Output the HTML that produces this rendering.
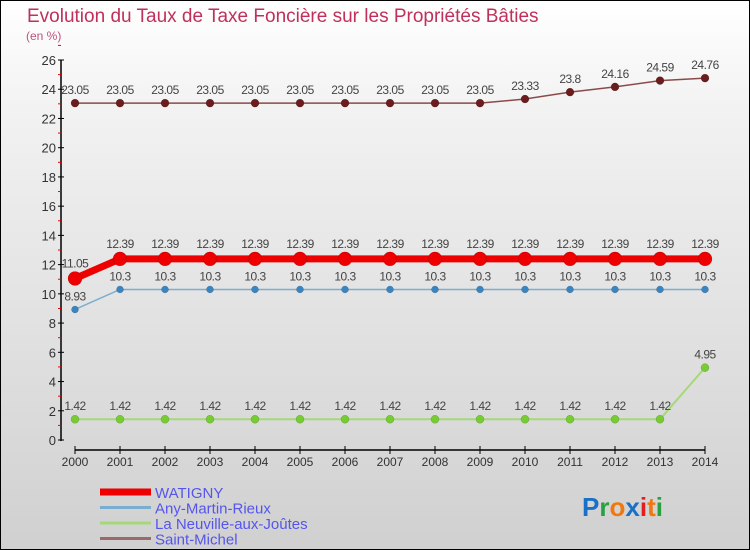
<!DOCTYPE html>
<html><head><meta charset="utf-8"><style>
body{margin:0}
#wrap{position:relative;width:748px;height:548px;border:1px solid #000;background:linear-gradient(#ffffff,#f2f2f2 20%,#d0d0d0);overflow:hidden;font-family:"Liberation Sans",sans-serif}
svg{position:absolute;left:-1px;top:-1px}
</style></head><body>
<div id="wrap">
<svg id="c" width="750" height="550"></svg>
</div>
<script>
const years=[2000,2001,2002,2003,2004,2005,2006,2007,2008,2009,2010,2011,2012,2013,2014];
const watigny=[11.05,12.39,12.39,12.39,12.39,12.39,12.39,12.39,12.39,12.39,12.39,12.39,12.39,12.39,12.39];
const anyMartin=[8.93,10.3,10.3,10.3,10.3,10.3,10.3,10.3,10.3,10.3,10.3,10.3,10.3,10.3,10.3];
const neuville=[1.42,1.42,1.42,1.42,1.42,1.42,1.42,1.42,1.42,1.42,1.42,1.42,1.42,1.42,4.95];
const stMichel=[23.05,23.05,23.05,23.05,23.05,23.05,23.05,23.05,23.05,23.05,23.33,23.8,24.16,24.59,24.76];
const yTicks=[0,2,4,6,8,10,12,14,16,18,20,22,24,26];
const seriesNames=["WATIGNY","Any-Martin-Rieux","La Neuville-aux-Joûtes","Saint-Michel"];

const svg=document.getElementById('c');const NS="http://www.w3.org/2000/svg";
function X(i){return 75+i*(630/(years.length-1));}
function Y(v){return 440-v*(380/26);}
function el(t,a,txt){const e=document.createElementNS(NS,t);for(const k in a)e.setAttribute(k,a[k]);if(txt!==undefined)e.textContent=txt;svg.appendChild(e);return e;}
function fmt(v){return String(v).replace(/\.?0+$/,'')===''?'0':String(v);}

let t=el('text',{x:27,y:22,'font-size':19,fill:'#c0305a'},'Evolution du Taux de Taxe Foncière sur les Propriétés Bâties');

t=el('text',{x:26,y:40,'font-size':12,fill:'#c05080'},'(en %)');


// y axis
let a=el('line',{x1:61,y1:60,x2:61,y2:441,stroke:'#000','stroke-width':1.5});

yTicks.forEach(v=>{
 const y=Y(v);
 const tk=el('line',{x1:58,y1:y,x2:64,y2:y,stroke:'#000'});
 
 const m=el('line',{x1:58,y1:Y(v+1),x2:61,y2:Y(v+1),stroke:'#e00'});
 
 const l=el('text',{x:56,y:y+5,'font-size':13,fill:'#333','text-anchor':'end'},v);
 
});
// x axis
a=el('line',{x1:75,y1:450,x2:705,y2:450,stroke:'#000','stroke-width':1.5});

years.forEach((yr,i)=>{
 const tk=el('line',{x1:X(i),y1:446,x2:X(i),y2:454,stroke:'#000'});
 
 const l=el('text',{x:X(i),y:466,'font-size':12,fill:'#333','text-anchor':'middle'},yr);
 
});

function series(data,color,dot,lw,r,name){
 const p=el('polyline',{points:data.map((v,i)=>X(i)+','+Y(v)).join(' '),fill:'none',stroke:color,'stroke-width':lw});
 
 data.forEach((v,i)=>{
  const c=el('circle',{cx:X(i),cy:Y(v),r:r,fill:dot,stroke:'rgba(0,0,0,0.25)','stroke-width':0.5});
  
  const l=el('text',{x:X(i),y:Y(v)-9-(r>5?2:0),'font-size':12,fill:'#444','text-anchor':'middle','letter-spacing':'-0.5'},fmt(v));
  
 });
}
series(stMichel,'#8b4a4a','#6b1c1c',1.5,4,'saint-michel');
series(neuville,'#a6d87a','#77cc33',2,4,'la-neuville');
series(anyMartin,'#7aaed0','#3a84c0',1.5,3.5,'any-martin-rieux');
series(watigny,'#ee0000','#ee0000',7,7,'watigny');

// legend
const lc=[['#ee0000',7],['#7aaed0',3],['#a6d87a',3],['#9a6a6a',3]];
seriesNames.forEach((n,i)=>{
 const y=492+i*15.5;
 const ln=el('line',{x1:100,y1:y,x2:151,y2:y,stroke:lc[i][0],'stroke-width':lc[i][1]});
 
 const tx=el('text',{x:155,y:y+6,'font-size':15,fill:'#5555ee'},n);
 
});
// logo
const logo=el('text',{x:582,y:516,'font-size':26,'font-weight':'bold'});

[['P','#1a70c8'],['r','#2aa040'],['o','#f07810'],['x','#1a70c8'],['i','#e02020'],['t','#f07810'],['i','#2aa040']].forEach(([c,f])=>{
 const s=document.createElementNS(NS,'tspan');s.setAttribute('fill',f);s.textContent=c;logo.appendChild(s);
});
</script>
</body></html>
